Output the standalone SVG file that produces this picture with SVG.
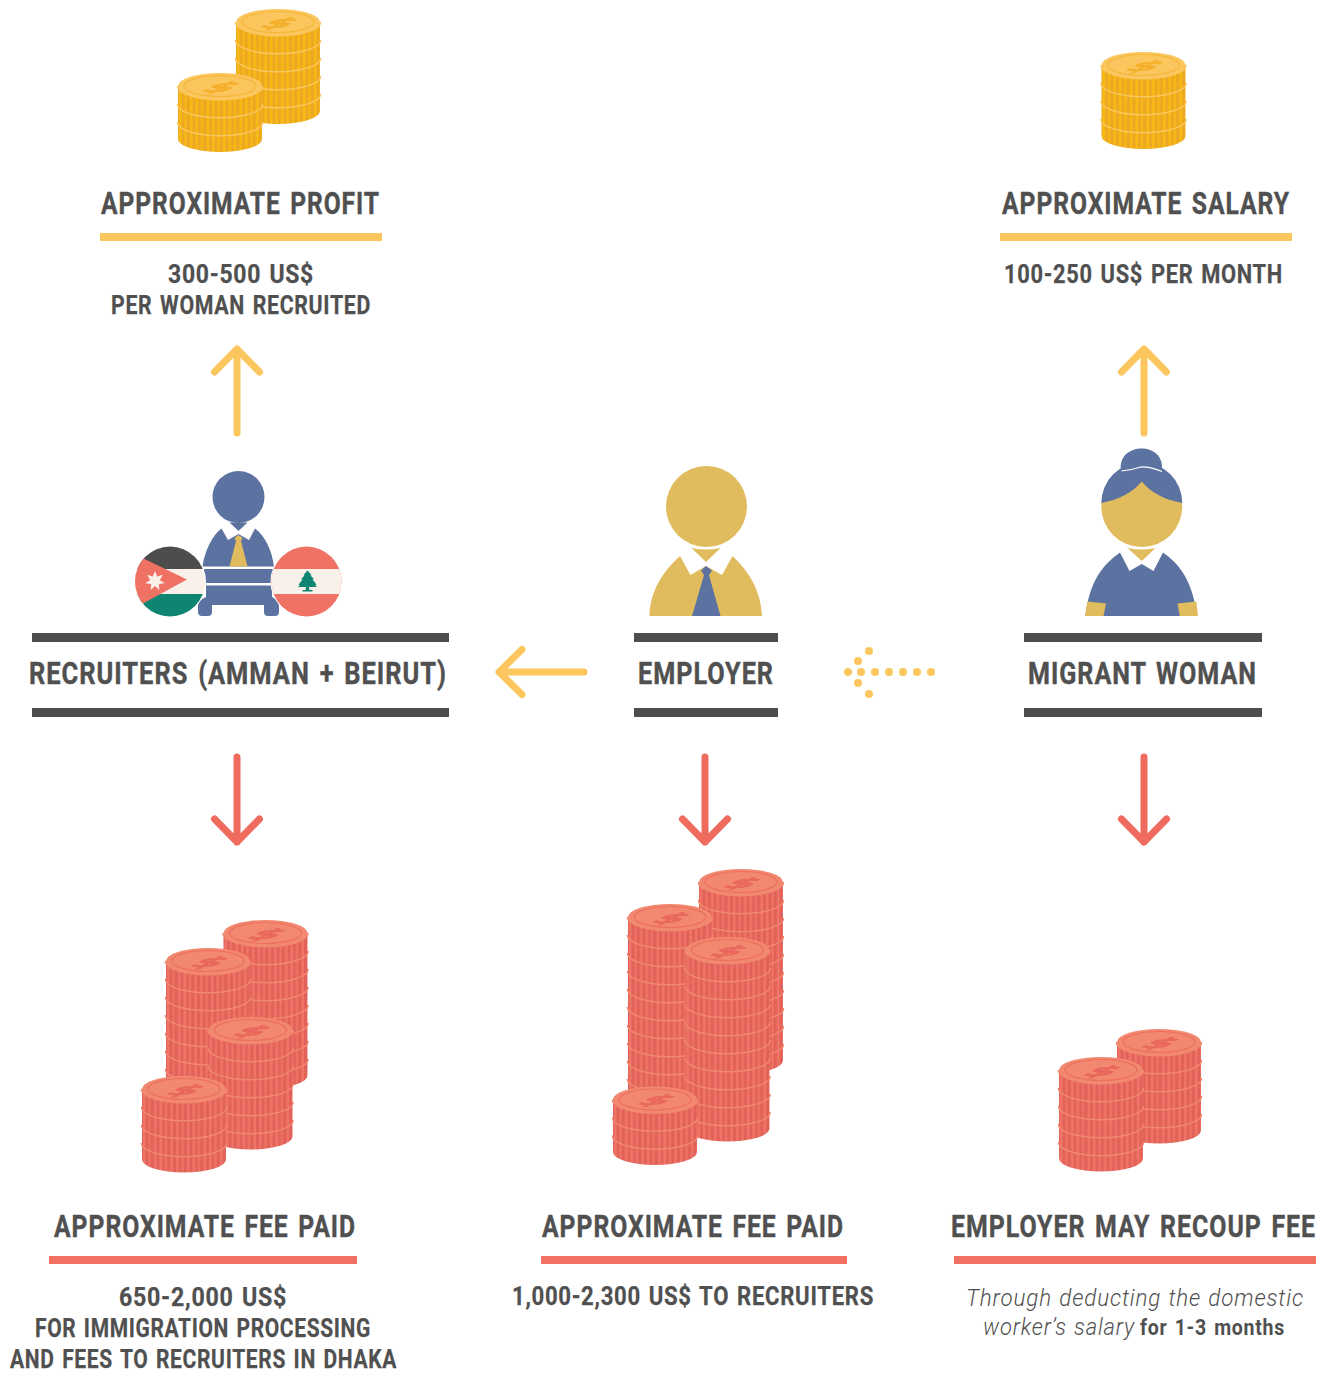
<svg xmlns="http://www.w3.org/2000/svg" width="1330" height="1373" viewBox="0 0 1330 1373">
<style>
text{font-family:Roboto,"Liberation Sans",sans-serif;fill:#505050;font-weight:700}
.h{font-size:31px;letter-spacing:1.200px;word-spacing:3px;stroke:#505050;stroke-width:.4px}
.s{font-size:25.500px;letter-spacing:.8px;word-spacing:2px;stroke:#505050;stroke-width:.25px}
.i{font-size:23.500px;font-weight:300;font-style:italic;letter-spacing:.9px;word-spacing:1px}
.b{font-size:22px;letter-spacing:.8px;word-spacing:2px}
.dark{fill:#4d4d4d}.yb{fill:#fcc65f}.rb{fill:#f07163}
.ay{fill:none;stroke:#fcc65f;stroke-width:7;stroke-linecap:round;stroke-linejoin:round}
.ar{fill:none;stroke:#ee6b5e;stroke-width:7;stroke-linecap:round;stroke-linejoin:round}
.blue{fill:#5c72a0}.gold{fill:#e1bc5f}
.dol{font-family:"DejaVu Sans",sans-serif;font-size:30px;font-weight:700;text-anchor:middle;stroke-width:.7px}
</style>
<defs>
<pattern id="py" patternUnits="userSpaceOnUse" width="16.500" height="400" x="-42"><rect width="16.500" height="400" fill="#eca822"/><rect x="1" width="2.500" height="400" fill="#f8ba14"/><rect x="6.500" width="2" height="400" fill="#f8ba14"/><rect x="12" width="2.500" height="400" fill="#f8ba14"/></pattern>
<pattern id="pr" patternUnits="userSpaceOnUse" width="16.500" height="400" x="-42"><rect width="16.500" height="400" fill="#e2625a"/><rect x="1" width="2.500" height="400" fill="#ef7567"/><rect x="6.500" width="2" height="400" fill="#ef7567"/><rect x="12" width="2.500" height="400" fill="#ef7567"/></pattern>
<g id="ly"><path d="M-42 0A42 13 0 0 0 42 0V18A42 13 0 0 1 -42 18Z" fill="url(#py)"/><path d="M-42 0A42 13 0 0 0 42 0" fill="none" stroke="#fcc65f" stroke-width="2.800"/></g>
<g id="lr"><path d="M-42 0A42 13 0 0 0 42 0V18A42 13 0 0 1 -42 18Z" fill="url(#pr)"/><path d="M-42 0A42 13 0 0 0 42 0" fill="none" stroke="#f1886f" stroke-width="2.800"/></g>
<g id="ey"><path d="M-42 0A42 13 0 0 0 42 0V17A42 13 0 0 1 -42 17Z" fill="url(#py)"/><path d="M-42 0A42 13 0 0 0 42 0" fill="none" stroke="#fcc65f" stroke-width="2.800"/></g>
<g id="er"><path d="M-42 0A42 13 0 0 0 42 0V16.500A42 13 0 0 1 -42 16.500Z" fill="url(#pr)"/><path d="M-42 0A42 13 0 0 0 42 0" fill="none" stroke="#f1886f" stroke-width="2.800"/></g>
<g id="cy"><ellipse rx="42" ry="13" fill="#fcc65f"/><ellipse rx="36" ry="10.500" fill="none" stroke="#f5b53a" stroke-width="1.200"/><text class="dol" style="fill:#f4b02a;stroke:#f4b02a" transform="translate(-7,5.500) scale(1.400,.47) skewX(-32)">$</text></g>
<g id="cr"><ellipse rx="42" ry="13" fill="#f1886f"/><ellipse rx="36" ry="10.500" fill="none" stroke="#ec6f5f" stroke-width="1.200"/><text class="dol" style="fill:#e9675c;stroke:#e9675c" transform="translate(-7,5.500) scale(1.400,.47) skewX(-32)">$</text></g>
</defs>
<rect width="1330" height="1373" fill="#fff"/>

<g id="profit-coins">
<g transform="translate(278,22)"><use href="#ey" y="72"/><use href="#ly" y="54"/><use href="#ly" y="36"/><use href="#ly" y="18"/><use href="#ly"/><use href="#cy"/></g>
<g transform="translate(220,86)"><use href="#ey" y="36"/><use href="#ly" y="18"/><use href="#ly"/><use href="#cy"/></g>
</g>
<g id="salary-coins">
<g transform="translate(1143.500,65)"><use href="#ey" y="54"/><use href="#ly" y="36"/><use href="#ly" y="18"/><use href="#ly"/><use href="#cy"/></g>
</g>
<g id="profit-label">
<text class="h" transform="translate(101,214) scale(.8,1)" textLength="348.750" lengthAdjust="spacingAndGlyphs">APPROXIMATE PROFIT</text>
<rect class="yb" x="100" y="233" width="282" height="8"/>
<text class="s" x="168" y="283" textLength="146" lengthAdjust="spacingAndGlyphs">300-500 US$</text>
<text class="s" x="111" y="314" textLength="260" lengthAdjust="spacingAndGlyphs">PER WOMAN RECRUITED</text>
</g>
<g id="salary-label">
<text class="h" transform="translate(1002,214) scale(.8,1)" textLength="360" lengthAdjust="spacingAndGlyphs">APPROXIMATE SALARY</text>
<rect class="yb" x="1000" y="233" width="292" height="8"/>
<text class="s" x="1004" y="283" textLength="279" lengthAdjust="spacingAndGlyphs">100-250 US$ PER MONTH</text>
</g>

<g id="connectors">
<path class="ay" d="M237 433V349M214.500 372L237 349L259.500 372"/>
<path class="ay" d="M1144 433V349M1121.500 372L1144 349L1166.500 372"/>
<path class="ay" d="M584 672H499M522 649.500L499 672L522 694.500"/>
<path class="ar" d="M237 757V842M214.500 819L237 842L259.500 819"/>
<path class="ar" d="M705 757V842M682.500 819L705 842L727.500 819"/>
<path class="ar" d="M1144 757V842M1121.500 819L1144 842L1166.500 819"/>
<g class="yb"><circle cx="931" cy="672" r="4"/><circle cx="917" cy="672" r="4"/><circle cx="903" cy="672" r="4"/><circle cx="889" cy="672" r="4"/><circle cx="875" cy="672" r="4"/><circle cx="861" cy="672" r="4"/><circle cx="848" cy="672" r="4"/><circle cx="858" cy="661" r="4"/><circle cx="869" cy="651" r="4"/><circle cx="858" cy="683" r="4"/><circle cx="869" cy="694" r="4"/></g>
</g>

<g id="recruiters">
<circle class="blue" cx="238.500" cy="497" r="26"/>
<path class="blue" d="M229.500 522.500H247.500L238.500 531Z"/>
<path class="blue" d="M221.500 528.500L228 540L238.500 534L249 540L255 528.500C265 536 272 550 274 566.500H202.500C205 550 212 536 221.500 528.500Z"/>
<path class="gold" d="M238.500 535L234.500 538L236 541L229.500 566.500H247.500L241 541L242.500 538Z"/>
<rect class="blue" x="204" y="569" width="70" height="14"/>
<path class="blue" d="M206 585.500H272V597Q279 600 279 607V612Q279 616 275 616H268Q264 616 264 612V605H212V612Q212 616 208 616H202Q198 616 198 612V607Q198 600 206 597Z"/>
<g>
<clipPath id="cj"><circle cx="170" cy="581.500" r="35"/></clipPath>
<circle cx="170" cy="581.500" r="36" fill="#fff"/>
<g clip-path="url(#cj)">
<rect x="134" y="546" width="72" height="23" class="dark"/>
<rect x="134" y="569" width="72" height="25" fill="#f8f0e9"/>
<rect x="134" y="594" width="72" height="24" fill="#0e8570"/>
<path d="M130 552L143.500 558.500L187 579.500L143 603.500L130 612Z" fill="#f07264"/>
<path d="M155 571L157.200 576.500L162.800 574.800L159.900 579.900L164.700 583.200L158.900 584.100L159.300 590L155 586L150.700 590L151.100 584.100L145.300 583.200L150.100 579.900L147.200 574.800L152.800 576.500Z" fill="#f8f0e9"/>
</g>
</g>
<g>
<clipPath id="cl"><circle cx="306.500" cy="581.500" r="35"/></clipPath>
<circle cx="306.500" cy="581.500" r="36" fill="#fff"/>
<g clip-path="url(#cl)">
<rect x="270" y="546" width="74" height="72" fill="#f07264"/>
<rect x="270" y="569" width="74" height="25" fill="#f8f0e9"/>
<path d="M307.500 570.500L311.500 575L310.500 575.500L314 579L312.500 579.500L316.500 584.500L315 585.500L317.500 587L309 587L309.500 590H312.500V591.500H302.500V590H305.500L306 587L297.500 587L300 585.500L298.500 584.500L302.500 579.500L301 579L304.500 575.500L303.500 575Z" fill="#0e8570"/>
</g>
</g>
</g>
<g id="employer">
<circle class="gold" cx="706.500" cy="506.500" r="40.500"/>
<path class="gold" d="M691.500 548Q706 551 720.500 548L706 562Z"/>
<path class="gold" d="M680 556L690.500 575L706 566L722 575L732.500 556C750 572 761 592 762 616H649.500C650 592 662 572 680 556Z"/>
<path class="blue" d="M706 566L701 570.500L704 575L692 616H720.500L709 575L712 570.500Z"/>
</g>
<g id="migrant">
<circle class="gold" cx="1141.800" cy="506.500" r="40.500"/>
<path class="blue" d="M1101.300 503A40.500 40.500 0 0 1 1182.300 503Q1155 498 1141.800 481.500Q1128 498 1101.300 503Z"/>
<path class="blue" d="M1121 470.500C1119 456 1130 448.500 1141.800 448.500C1153 448.500 1164 456 1161.800 471Q1152 470 1141.800 466.500Q1131 471 1121 470.500Z"/>
<path fill="none" stroke="#fff" stroke-width="1.200" d="M1121.500 471Q1132 470 1141.800 466.800Q1152 467 1162 471.500"/>
<path class="gold" d="M1127.500 548Q1141.800 551 1155.500 548L1141.800 561Z"/>
<path class="blue" d="M1120 552.500L1129.500 571L1141.800 564L1153.500 571L1163 552.500C1181 565 1193 583 1197 616H1085.500C1089 583 1102 565 1120 552.500Z"/>
<path class="gold" d="M1087.300 601.500L1106 603.500L1103.500 616H1085Z"/>
<path class="gold" d="M1177.500 603.500L1196.400 601.500L1198 616H1179.800Z"/>
</g>

<g id="recruiters-label">
<rect class="dark" x="32" y="633" width="417" height="9"/>
<text class="h" transform="translate(29,684) scale(.8,1)" textLength="522.500" lengthAdjust="spacingAndGlyphs">RECRUITERS (AMMAN + BEIRUT)</text>
<rect class="dark" x="32" y="708" width="417" height="9"/>
</g>
<g id="employer-label">
<rect class="dark" x="634" y="633" width="144" height="9"/>
<text class="h" transform="translate(638,684) scale(.8,1)" textLength="170" lengthAdjust="spacingAndGlyphs">EMPLOYER</text>
<rect class="dark" x="634" y="708" width="144" height="9"/>
</g>
<g id="migrant-label">
<rect class="dark" x="1024" y="633" width="238" height="9"/>
<text class="h" transform="translate(1028,684) scale(.8,1)" textLength="286.250" lengthAdjust="spacingAndGlyphs">MIGRANT WOMAN</text>
<rect class="dark" x="1024" y="708" width="238" height="9"/>
</g>

<g id="fee-coins-left">
<g transform="translate(265.500,933)"><use href="#er" y="126"/><use href="#lr" y="108"/><use href="#lr" y="90"/><use href="#lr" y="72"/><use href="#lr" y="54"/><use href="#lr" y="36"/><use href="#lr" y="18"/><use href="#lr"/><use href="#cr"/></g>
<g transform="translate(208,961)"><use href="#er" y="126"/><use href="#lr" y="108"/><use href="#lr" y="90"/><use href="#lr" y="72"/><use href="#lr" y="54"/><use href="#lr" y="36"/><use href="#lr" y="18"/><use href="#lr"/><use href="#cr"/></g>
<g transform="translate(250.500,1030)"><use href="#er" y="90"/><use href="#lr" y="72"/><use href="#lr" y="54"/><use href="#lr" y="36"/><use href="#lr" y="18"/><use href="#lr"/><use href="#cr"/></g>
<g transform="translate(184,1089)"><use href="#er" y="54"/><use href="#lr" y="36"/><use href="#lr" y="18"/><use href="#lr"/><use href="#cr"/></g>
</g>
<g id="fee-coins-center">
<g transform="translate(741,882)"><use href="#er" y="162"/><use href="#lr" y="144"/><use href="#lr" y="126"/><use href="#lr" y="108"/><use href="#lr" y="90"/><use href="#lr" y="72"/><use href="#lr" y="54"/><use href="#lr" y="36"/><use href="#lr" y="18"/><use href="#lr"/><use href="#cr"/></g>
<g transform="translate(670,917)"><use href="#er" y="162"/><use href="#lr" y="144"/><use href="#lr" y="126"/><use href="#lr" y="108"/><use href="#lr" y="90"/><use href="#lr" y="72"/><use href="#lr" y="54"/><use href="#lr" y="36"/><use href="#lr" y="18"/><use href="#lr"/><use href="#cr"/></g>
<g transform="translate(727.500,950)"><use href="#er" y="162"/><use href="#lr" y="144"/><use href="#lr" y="126"/><use href="#lr" y="108"/><use href="#lr" y="90"/><use href="#lr" y="72"/><use href="#lr" y="54"/><use href="#lr" y="36"/><use href="#lr" y="18"/><use href="#lr"/><use href="#cr"/></g>
<g transform="translate(655,1099.500)"><use href="#er" y="36"/><use href="#lr" y="18"/><use href="#lr"/><use href="#cr"/></g>
</g>
<g id="fee-coins-right">
<g transform="translate(1159,1042)"><use href="#er" y="72"/><use href="#lr" y="54"/><use href="#lr" y="36"/><use href="#lr" y="18"/><use href="#lr"/><use href="#cr"/></g>
<g transform="translate(1101,1070)"><use href="#er" y="72"/><use href="#lr" y="54"/><use href="#lr" y="36"/><use href="#lr" y="18"/><use href="#lr"/><use href="#cr"/></g>
</g>

<g id="fee-left-label">
<text class="h" transform="translate(54,1237) scale(.8,1)" textLength="377.500" lengthAdjust="spacingAndGlyphs">APPROXIMATE FEE PAID</text>
<rect class="rb" x="49" y="1256" width="308" height="8"/>
<text class="s" x="119" y="1306" textLength="168" lengthAdjust="spacingAndGlyphs">650-2,000 US$</text>
<text class="s" x="35" y="1337" textLength="336" lengthAdjust="spacingAndGlyphs">FOR IMMIGRATION PROCESSING</text>
<text class="s" x="10" y="1368" textLength="387" lengthAdjust="spacingAndGlyphs">AND FEES TO RECRUITERS IN DHAKA</text>
</g>
<g id="fee-center-label">
<text class="h" transform="translate(542,1237) scale(.8,1)" textLength="377.500" lengthAdjust="spacingAndGlyphs">APPROXIMATE FEE PAID</text>
<rect class="rb" x="541" y="1256" width="306" height="8"/>
<text class="s" x="512" y="1305" textLength="362" lengthAdjust="spacingAndGlyphs">1,000-2,300 US$ TO RECRUITERS</text>
</g>
<g id="fee-right-label">
<text class="h" transform="translate(951,1237) scale(.8,1)" textLength="456.250" lengthAdjust="spacingAndGlyphs">EMPLOYER MAY RECOUP FEE</text>
<rect class="rb" x="954" y="1256" width="362" height="8"/>
<text class="i" x="966" y="1305.500" textLength="338" lengthAdjust="spacingAndGlyphs">Through deducting the domestic</text>
<text class="i" x="983" y="1334.500" textLength="152" lengthAdjust="spacingAndGlyphs">worker’s salary</text>
<text class="b" x="1140" y="1334.500" textLength="145" lengthAdjust="spacingAndGlyphs">for 1-3 months</text>
</g>
</svg>
